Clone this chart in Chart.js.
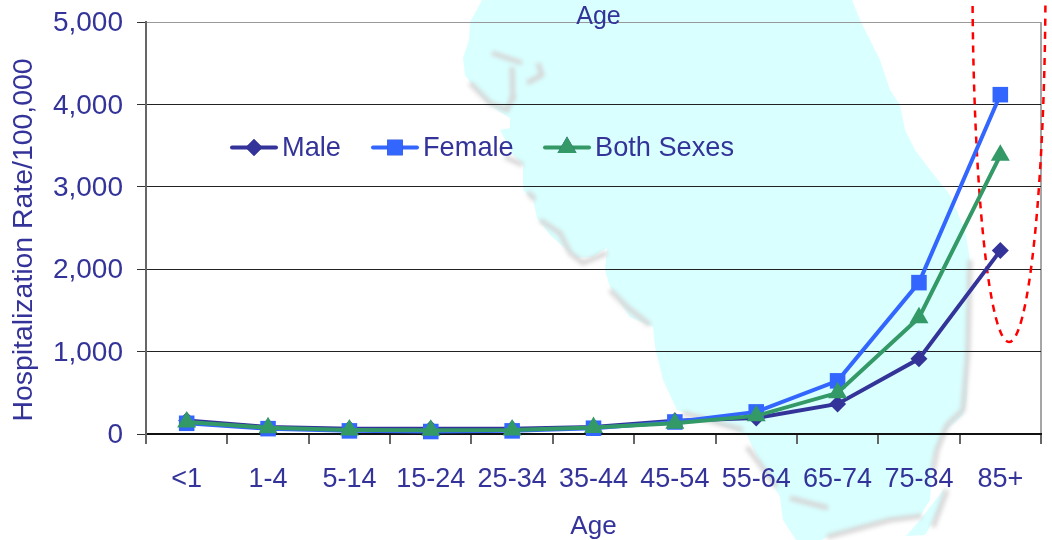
<!DOCTYPE html>
<html>
<head>
<meta charset="utf-8">
<script src="https://cdn.jsdelivr.net/npm/chart.js@4"></script>
<style>
  html, body { margin: 0; padding: 0; background: #fff; }
  canvas { display: block; }
</style>
</head>
<body>
<canvas id="myChart" width="1052" height="540"></canvas>
<script>
const ageGroups = ['<1', '1-4', '5-14', '15-24', '25-34', '35-44', '45-54', '55-64', '65-74', '75-84', '85+'];
const maleRates = [165, 85, 65, 65, 65, 85, 160, 195, 365, 912, 2226];
const femaleRates = [130, 65, 38, 30, 38, 70, 146, 268, 645, 1837, 4118];
const bothRates = [145, 75, 50, 45, 50, 78, 130, 220, 500, 1411, 3382];
const yTickLabels = ['0', '1,000', '2,000', '3,000', '4,000', '5,000'];

const textColor = '#333399';
const fontFamily = '"Liberation Sans", Arial, sans-serif';

// background map of Florida, canvas pixels
const mapOutline = [[482,0],[474,15],[470,22],[469,40],[463,58],[465,75],[470,82],[480,95],[490,105],[500,112],[510,118],[510,128],[500,130],
  [513,155],[523,165],[523,190],[533,200],[537,218],[550,235],[567,250],[577,258],[593,257],[607,248],[605,270],[610,287],[630,317],[653,327],
  [655,347],[663,380],[677,410],[743,433],[747,435],[760,463],[780,497],[783,520],[796,540],[822,540],[827,537],[887,520],[920,516],[930,500],
  [933,460],[943,433],[963,415],[967,400],[968,350],[970,260],[965,230],[950,195],[930,170],[915,150],[905,130],[900,105],[890,90],[880,60],
  [870,40],[860,20],[852,0]];
const mapIsland = [[920,520],[945,488],[940,510],[925,535],[906,536]];
const mapShadows = [
  [[492,53],[522,63]],
  [[512,67],[513,100]],
  [[527,83],[542,75],[538,63]],
  [[470,83],[490,103],[507,110],[513,97]],
  [[505,157],[523,165]],
  [[528,192],[535,200]],
  [[540,220],[560,233],[570,253],[583,263],[607,253]],
  [[610,290],[627,307],[650,325]],
  [[683,413],[743,430]],
  [[747,447],[777,487]],
  [[790,498],[828,508]],
  [[827,537],[890,520],[922,516]],
  [[970,260],[968,350],[963,410],[947,425],[937,450],[933,470]],
  [[947,490],[933,527]]
];

function tracePath(ctx, pts) {
  ctx.beginPath();
  pts.forEach((p, i) => i ? ctx.lineTo(p[0], p[1]) : ctx.moveTo(p[0], p[1]));
}

const mapBackground = {
  id: 'mapBackground',
  beforeDraw(chart) {
    const ctx = chart.ctx;
    ctx.save();
    ctx.fillStyle = '#fff';
    ctx.fillRect(0, 0, chart.width, chart.height);
    ctx.fillStyle = '#d9ffff';
    tracePath(ctx, mapOutline);
    ctx.closePath();
    ctx.fill();
    tracePath(ctx, mapIsland);
    ctx.closePath();
    ctx.fill();
    ctx.filter = 'blur(2px)';
    ctx.strokeStyle = '#d6d6d6';
    ctx.lineWidth = 5;
    ctx.lineJoin = 'round';
    mapShadows.forEach(s => {
      tracePath(ctx, s);
      ctx.stroke();
    });
    ctx.restore();
  }
};

// red dashed ellipse around the 85+ group, sits under the lines
const redEllipse = {
  id: 'redEllipse',
  beforeDatasetsDraw(chart) {
    const ctx = chart.ctx;
    ctx.save();
    ctx.strokeStyle = '#ff0000';
    ctx.lineWidth = 2.5;
    ctx.setLineDash([7, 6]);
    ctx.beginPath();
    ctx.ellipse(1009, -20, 36.5, 362, 0, 0, Math.PI * 2);
    ctx.stroke();
    ctx.restore();
  }
};

// legend sits inside the plot with a line through each marker
const legendSpots = [{ x: 232, tx: 282 }, { x: 373, tx: 423 }, { x: 545, tx: 595 }];
const floatingText = {
  id: 'floatingText',
  afterDraw(chart) {
    const ctx = chart.ctx;
    ctx.save();
    ctx.textBaseline = 'middle';
    ctx.font = '25px ' + fontFamily;
    ctx.fillStyle = textColor;
    ctx.textAlign = 'center';
    ctx.fillText('Age', 598.5, 17);

    // y title is not centred on the plot in the original
    ctx.save();
    ctx.translate(24.5, 240);
    ctx.rotate(-Math.PI / 2);
    ctx.font = '28.4px ' + fontFamily;
    ctx.fillText('Hospitalization Rate/100,000', 0, 0);
    ctx.restore();

    ctx.textAlign = 'left';
    ctx.font = '27.2px ' + fontFamily;
    chart.data.datasets.forEach((ds, i) => {
      const spot = legendSpots[i];
      const y = 147.5;
      ctx.strokeStyle = ds.borderColor;
      ctx.lineWidth = 4;
      ctx.lineCap = 'round';
      ctx.beginPath();
      ctx.moveTo(spot.x, y);
      ctx.lineTo(spot.x + 44, y);
      ctx.stroke();
      Chart.helpers.drawPoint(ctx, { pointStyle: ds.pointStyle, radius: ds.pointRadius, borderWidth: 0 }, spot.x + 22, y);
      ctx.fillStyle = ds.backgroundColor;
      ctx.fill();
      ctx.fillStyle = textColor;
      ctx.fillText(ds.label, spot.tx, y + 1.5);
    });
    ctx.restore();
  }
};

// lower order is painted last, Both Sexes ends up on top
const chartData = {
  labels: ageGroups,
  datasets: [
    { label: 'Male', data: maleRates, order: 3, borderColor: '#333399', backgroundColor: '#333399', pointStyle: 'rectRot', pointRadius: 8.5 },
    { label: 'Female', data: femaleRates, order: 2, borderColor: '#3366ff', backgroundColor: '#3366ff', pointStyle: 'rect', pointRadius: 11 },
    { label: 'Both Sexes', data: bothRates, order: 1, borderColor: '#339966', backgroundColor: '#339966', pointStyle: 'triangle', pointRadius: 11 }
  ]
};
chartData.datasets.forEach(ds => {
  ds.borderWidth = 4;
  ds.pointBorderWidth = 0;
  ds.tension = 0;
  ds.clip = false;
});

const config = {
  type: 'line',
  data: chartData,
  options: {
    responsive: false,
    animation: false,
    layout: { padding: { left: 0, right: 9, top: 22, bottom: 0 } },
    plugins: {
      legend: { display: false },
      title: { display: false },
      tooltip: { enabled: false }
    },
    scales: {
      x: {
        offset: true,
        afterFit(scale) {
          scale.height = 106;
          scale.paddingLeft = 0;
          scale.paddingRight = 0;
        },
        grid: {
          offset: true,
          tickLength: 10,
          tickColor: '#666',
          // only the closing line at the right edge shows inside the plot
          color: ctx => ctx.tick ? 'transparent' : '#a6a6a6',
          lineWidth: 2
        },
        border: { color: '#111', width: 2 },
        ticks: {
          color: textColor,
          font: { size: 27, family: fontFamily },
          padding: 19,
          maxRotation: 0,
          autoSkip: false
        },
        title: {
          display: true,
          text: 'Age',
          color: textColor,
          font: { size: 26, family: fontFamily },
          padding: { top: 0, bottom: -2 }
        }
      },
      y: {
        min: 0,
        max: 5000,
        afterFit(scale) {
          scale.width = 146;
          scale.paddingTop = 0;
          scale.paddingBottom = 0;
        },
        grid: {
          tickLength: 9,
          tickColor: '#333',
          color: ctx => ctx.tick && ctx.tick.value === 5000 ? '#999' : '#222',
          lineWidth: 1
        },
        border: { color: '#666', width: 2 },
        ticks: {
          stepSize: 1000,
          color: textColor,
          font: { size: 28, family: fontFamily },
          padding: 14,
          labelOffset: 1.5,
          callback: (v, i) => yTickLabels[i]
        }
      }
    }
  },
  plugins: [mapBackground, redEllipse, floatingText]
};

const myChart = new Chart(document.getElementById('myChart'), config);
</script>
</body>
</html>
